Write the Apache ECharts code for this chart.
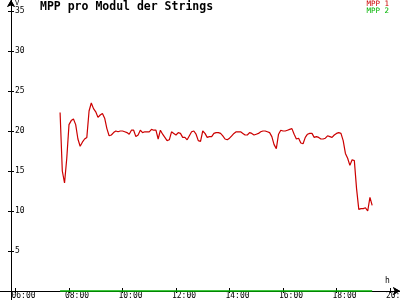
<!DOCTYPE html>
<html>
<head>
<meta charset="utf-8">
<script src="https://cdn.jsdelivr.net/npm/echarts@6/dist/echarts.min.js"></script>
<style>html,body{margin:0;padding:0;background:#fff}#c{width:400px;height:300px}</style>
</head>
<body>
<div id="c"></div>
<script>
const times = [
'07:40','07:45','07:50','07:55','08:00','08:05','08:10','08:15','08:20','08:25','08:30','08:35',
'08:40','08:45','08:50','08:55','09:00','09:05','09:10','09:15','09:20','09:25','09:30','09:35',
'09:40','09:45','09:50','09:55','10:00','10:05','10:10','10:15','10:20','10:25','10:30','10:35',
'10:40','10:45','10:50','10:55','11:00','11:05','11:10','11:15','11:20','11:25','11:30','11:35',
'11:40','11:45','11:50','11:55','12:00','12:05','12:10','12:15','12:20','12:25','12:30','12:35',
'12:40','12:45','12:50','12:55','13:00','13:05','13:10','13:15','13:20','13:25','13:30','13:35',
'13:40','13:45','13:50','13:55','14:00','14:05','14:10','14:15','14:20','14:25','14:30','14:35',
'14:40','14:45','14:50','14:55','15:00','15:05','15:10','15:15','15:20','15:25','15:30','15:35',
'15:40','15:45','15:50','15:55','16:00','16:05','16:10','16:15','16:20','16:25','16:30','16:35',
'16:40','16:45','16:50','16:55','17:00','17:05','17:10','17:15','17:20','17:25','17:30','17:35',
'17:40','17:45','17:50','17:55','18:00','18:05','18:10','18:15','18:20','18:25','18:30','18:35',
'18:40','18:45','18:50','18:55','19:00','19:05','19:10','19:15','19:20'];
const mpp1 = [
22.3,15.0,13.5,16.6,20.8,21.3,21.5,20.8,19.0,18.1,18.6,19.0,
19.2,22.5,23.5,22.8,22.4,21.7,22.0,22.2,21.6,20.3,19.4,19.5,
19.8,20.0,19.9,20.0,20.0,19.9,19.8,19.6,20.1,20.1,19.3,19.5,
20.1,19.8,19.9,19.9,19.9,20.2,20.1,20.1,19.0,20.1,19.6,19.2,
18.8,18.9,19.9,19.7,19.5,19.8,19.7,19.2,19.2,18.9,19.4,19.9,
20.0,19.6,18.8,18.7,20.0,19.7,19.2,19.3,19.3,19.7,19.8,19.8,
19.7,19.4,19.0,18.9,19.1,19.4,19.7,19.9,19.9,19.9,19.7,19.5,
19.5,19.8,19.7,19.5,19.6,19.7,19.9,20.0,20.0,19.9,19.8,19.3,
18.3,17.8,19.6,20.1,20.0,20.0,20.1,20.2,20.3,19.6,19.0,19.1,
18.5,18.4,19.2,19.6,19.7,19.7,19.2,19.3,19.2,19.0,19.0,19.1,
19.4,19.3,19.2,19.5,19.7,19.8,19.7,18.8,17.2,16.6,15.7,16.4,
16.3,12.8,10.2,10.3,10.3,10.4,10.0,11.7,10.7];
const mpp2 = [
0,0,0,0,0,0,0,0,0,0,0,0,0,0,0,0,0,0,0,0,0,0,0,0,
0,0,0,0,0,0,0,0,0,0,0,0,0,0,0,0,0,0,0,0,0,0,0,0,
0,0,0,0,0,0,0,0,0,0,0,0,0,0,0,0,0,0,0,0,0,0,0,0,
0,0,0,0,0,0,0,0,0,0,0,0,0,0,0,0,0,0,0,0,0,0,0,0,
0,0,0,0,0,0,0,0,0,0,0,0,0,0,0,0,0,0,0,0,0,0,0,0,
0,0,0,0,0,0,0,0,0,0,0,0,0,0,0,0,0,0,0,0,0];
const xTickLabels = ['06:00','08:00','10:00','12:00','14:00','16:00','18:00','20:00'];
const yTickValues = [5,10,15,20,25,30,35];

const toH = s => parseInt(s.slice(0,2),10) + parseInt(s.slice(3),10)/60;
const xTickValues = xTickLabels.map(toH);
const LABEL_SHIFT = 0.15;
const FONT = 'DejaVu Sans Mono';
const RED = '#cc0000', GREEN = '#00b400';

const chart = echarts.init(document.getElementById('c'), null, {renderer:'canvas'});
const xBase = {
  type:'value', min:5.4206, max:20.3738, splitLine:{show:false},
  axisLine:{onZero:true, lineStyle:{color:'#000', width:1}, symbol:['none','arrow'], symbolSize:[6,7]}
};
const yBase = {
  type:'value', min:-1.125, max:36.375, position:'left', offset:-11, splitLine:{show:false},
  axisLine:{onZero:false, lineStyle:{color:'#000', width:1}, symbol:['none','arrow'], symbolSize:[6,7]}
};
chart.setOption({
  animation:false,
  backgroundColor:'#fff',
  title:{text:'MPP pro Modul der Strings', left:40, top:1, padding:0,
    textStyle:{fontFamily:FONT, fontSize:11.5, fontWeight:'bold', color:'#000'}},
  legend:{orient:'vertical', right:11, top:0, padding:0, itemGap:-1, itemWidth:0, itemHeight:8, icon:'none',
    textStyle:{fontFamily:FONT, fontSize:7.5},
    data:[{name:'MPP 1', textStyle:{color:RED}}, {name:'MPP 2', textStyle:{color:GREEN}}]},
  grid:{left:0, right:0, top:0, bottom:0, containLabel:false, outerBoundsMode:'none'},
  xAxis:[
    Object.assign({}, xBase, {
      axisTick:{show:true, length:2, lineStyle:{color:'#000'}, customValues:xTickValues},
      axisLabel:{show:true, customValues:xTickValues.map(v=>v-LABEL_SHIFT), align:'left', margin:-8,
        fontFamily:FONT, fontSize:8, color:'#000', hideOverlap:false,
        formatter:v=>xTickLabels[Math.round((v+LABEL_SHIFT-6)/2)]}
    }),
    Object.assign({}, xBase, {
      position:'bottom',
      axisTick:{show:true, inside:true, length:3, lineStyle:{color:'#000'}, customValues:xTickValues},
      axisLabel:{show:false}
    })
  ],
  yAxis:[
    Object.assign({}, yBase, {
      axisTick:{show:true, length:3, lineStyle:{color:'#000'}, customValues:yTickValues},
      axisLabel:{show:true, inside:true, margin:4, customValues:yTickValues,
        fontFamily:FONT, fontSize:8, color:'#000'}
    }),
    Object.assign({}, yBase, {
      axisTick:{show:true, inside:true, length:3, lineStyle:{color:'#000'}, customValues:yTickValues},
      axisLabel:{show:false}
    })
  ],
  graphic:[
    {type:'text', left:15, top:0, style:{text:'V', font:'7px "DejaVu Sans Mono"', fill:'#000'}},
    {type:'text', left:385, top:277, style:{text:'h', font:'8px "DejaVu Sans Mono"', fill:'#000'}}
  ],
  series:[
    {name:'MPP 1', type:'line', showSymbol:false, color:RED, lineStyle:{width:1.2, color:RED}, z:3,
      data:times.map((t,i)=>[toH(t), mpp1[i]])},
    {name:'MPP 2', type:'line', showSymbol:false, color:GREEN, lineStyle:{width:1.5, color:GREEN}, z:4,
      data:times.map((t,i)=>[toH(t), mpp2[i]])}
  ]
});
</script>
</body>
</html>
